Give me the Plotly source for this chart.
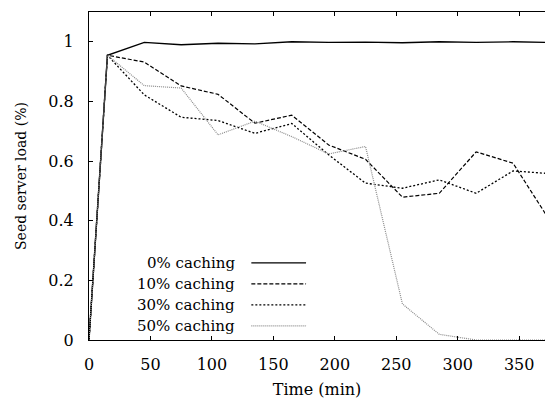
import plotly.graph_objects as go

time_min = [0, 15, 45, 75, 105, 135, 165, 195, 225, 255, 285, 315, 345, 375]
load_0 = [0.0, 0.955, 0.998, 0.990, 0.995, 0.993, 1.0, 0.998, 0.999, 0.997, 1.0, 0.998, 1.0, 0.998]
load_10 = [0.0, 0.955, 0.932, 0.852, 0.824, 0.727, 0.754, 0.654, 0.606, 0.479, 0.492, 0.631, 0.593, 0.40]
load_30 = [0.0, 0.955, 0.822, 0.747, 0.736, 0.693, 0.726, 0.621, 0.526, 0.509, 0.537, 0.492, 0.567, 0.558]
load_50 = [0.0, 0.955, 0.853, 0.845, 0.688, 0.734, 0.682, 0.624, 0.649, 0.121, 0.019, 0.0, 0.0, 0.0]

series_names = ["0% caching", "10% caching", "30% caching", "50% caching"]
series_vals = [load_0, load_10, load_30, load_50]
styles = [
    dict(color="black", width=1.4, dash="solid"),
    dict(color="black", width=1.2, dash="4px,2px"),
    dict(color="black", width=1.3, dash="2px,2px"),
    dict(color="#8a8a8a", width=1.2, dash="1px,1px"),
]

FONT = "DejaVu Serif"

fig = go.Figure()
for name, vals, st in zip(series_names, series_vals, styles):
    fig.add_trace(go.Scatter(x=time_min, y=vals, mode="lines", name=name,
                             line=st, showlegend=False))

# custom legend: text right-aligned, sample line to the right
leg_y0 = 0.235
leg_dy = 0.064
for i, (name, st) in enumerate(zip(series_names, styles)):
    yy = leg_y0 - i * leg_dy
    fig.add_annotation(x=0.325, y=yy, xref="paper", yref="paper", text=name,
                       showarrow=False, xanchor="right", yanchor="middle",
                       font=dict(family=FONT, size=15, color="black"))
    fig.add_shape(type="line", xref="paper", yref="paper",
                  x0=0.356, x1=0.476, y0=yy, y1=yy, line=st)

fig.update_layout(
    width=545, height=400,
    margin=dict(l=89, r=0, t=12, b=60),
    plot_bgcolor="white", paper_bgcolor="white",
    font=dict(family=FONT, size=15, color="black"),
)
fig.update_xaxes(
    range=[0, 371], tickvals=[0, 50, 100, 150, 200, 250, 300, 350],
    ticks="inside", ticklen=4, tickcolor="black", showline=True, linecolor="black",
    linewidth=1.2, mirror="ticks", showgrid=False, zeroline=False,
    ticklabelstandoff=10, tickfont=dict(size=16),
    title=dict(text="Time (min)", standoff=10, font=dict(size=16)),
)
fig.update_yaxes(
    range=[0, 1.1], tickvals=[0, 0.2, 0.4, 0.6, 0.8, 1], ticktext=["0", "0.2", "0.4", "0.6", "0.8", "1"],
    ticks="inside", ticklen=4, tickcolor="black", showline=True, linecolor="black",
    linewidth=1.2, showgrid=False, zeroline=False,
    ticklabelstandoff=11, tickfont=dict(size=16),
    title=dict(text="Seed server load (%)", standoff=18, font=dict(size=14)),
)

fig.write_html("out.html")
